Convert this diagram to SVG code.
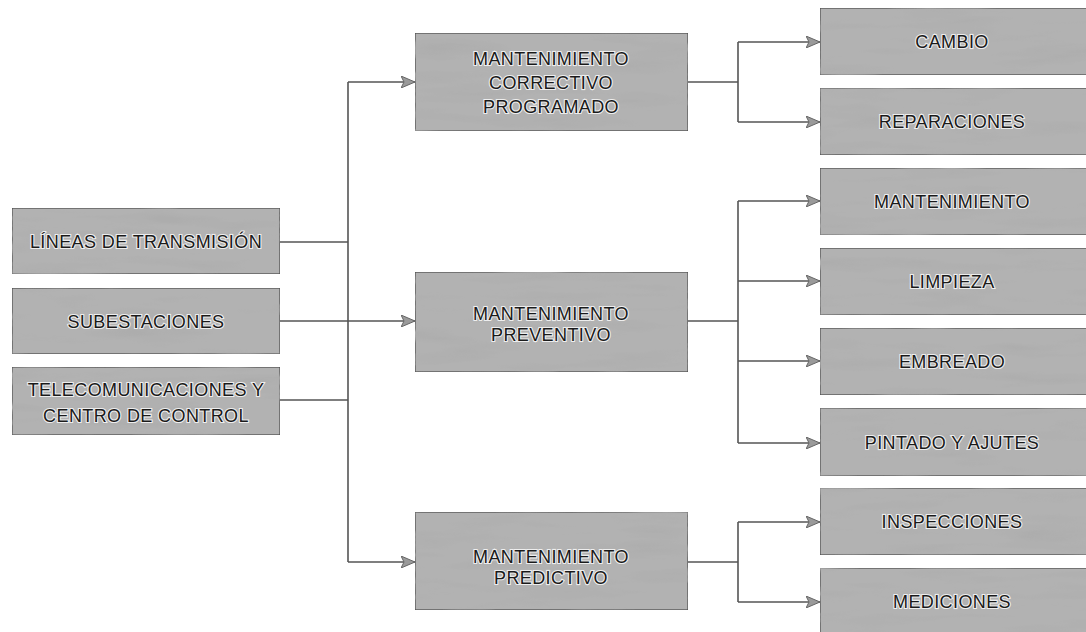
<svg xmlns="http://www.w3.org/2000/svg" width="1086" height="632" viewBox="0 0 1086 632">
<defs>
<filter id="tex" x="0" y="0" width="1" height="1">
<feTurbulence type="fractalNoise" baseFrequency="0.01 0.07" numOctaves="3" seed="4" result="n"/>
<feColorMatrix in="n" type="matrix" values="0 0 0 0 0.42  0 0 0 0 0.42  0 0 0 0 0.42  2.6 0 0 0 -1.25" result="d"/>
<feComposite in="d" in2="SourceGraphic" operator="in" result="dm"/>
<feMerge><feMergeNode in="SourceGraphic"/><feMergeNode in="dm"/></feMerge>
</filter>
<marker id="ah" viewBox="0 0 14 12" refX="14" refY="6" markerWidth="14" markerHeight="12" markerUnits="userSpaceOnUse" orient="auto">
<path d="M0,0 L14,6 L0,12 L3,6 Z" fill="#9a9a9a" stroke="#666" stroke-width="1"/>
</marker>
</defs>
<style>
.box{fill:#b2b2b2;stroke:#4a4a4a;stroke-width:1.2;filter:url(#tex)}
.t{font-family:"Liberation Sans",Arial,sans-serif;font-size:18px;fill:#1a1a1a;text-anchor:middle;stroke:#eeeeee;stroke-width:2.2px;paint-order:stroke;letter-spacing:0.4px}
.c{fill:none;stroke:#555;stroke-width:1.6}
.a{marker-end:url(#ah)}
</style>
<rect width="1086" height="632" fill="#ffffff"/>
<g id="connectors">
<path class="c" d="M280,242 H348 M280,400 H348 M348,82 V562"/>
<path class="c a" d="M348,82 H415"/>
<path class="c a" d="M280,321 H415"/>
<path class="c a" d="M348,562 H415"/>
<path class="c" d="M688,82 H738 M738,42 V122"/>
<path class="c a" d="M738,42 H820"/>
<path class="c a" d="M738,122 H820"/>
<path class="c" d="M688,321 H738 M738,201 V443"/>
<path class="c a" d="M738,201 H820"/>
<path class="c a" d="M738,281 H820"/>
<path class="c a" d="M738,361 H820"/>
<path class="c a" d="M738,443 H820"/>
<path class="c" d="M688,562 H738 M738,522 V602"/>
<path class="c a" d="M738,522 H820"/>
<path class="c a" d="M738,602 H820"/>
</g>
<g id="lineas"><rect class="box" x="12" y="208" width="268" height="66"/><text class="t" x="146" y="248">LÍNEAS DE TRANSMISIÓN</text></g>
<g id="subestaciones"><rect class="box" x="12" y="288" width="268" height="66"/><text class="t" x="146" y="328">SUBESTACIONES</text></g>
<g id="telecom"><rect class="box" x="12" y="367" width="268" height="68"/><text class="t" x="146" y="396">TELECOMUNICACIONES Y</text><text class="t" x="146" y="422">CENTRO DE CONTROL</text></g>
<g id="correctivo"><rect class="box" x="415" y="33" width="273" height="98"/><text class="t" x="551" y="65">MANTENIMIENTO</text><text class="t" x="551" y="89">CORRECTIVO</text><text class="t" x="551" y="113">PROGRAMADO</text></g>
<g id="preventivo"><rect class="box" x="415" y="272" width="273" height="100"/><text class="t" x="551" y="320">MANTENIMIENTO</text><text class="t" x="551" y="341">PREVENTIVO</text></g>
<g id="predictivo"><rect class="box" x="415" y="512" width="273" height="98"/><text class="t" x="551" y="563">MANTENIMIENTO</text><text class="t" x="551" y="584">PREDICTIVO</text></g>
<g id="cambio"><rect class="box" x="820" y="8" width="270" height="67"/><text class="t" x="952" y="48">CAMBIO</text></g>
<g id="reparaciones"><rect class="box" x="820" y="88" width="270" height="67"/><text class="t" x="952" y="128">REPARACIONES</text></g>
<g id="mantenimiento"><rect class="box" x="820" y="168" width="270" height="67"/><text class="t" x="952" y="208">MANTENIMIENTO</text></g>
<g id="limpieza"><rect class="box" x="820" y="248" width="270" height="67"/><text class="t" x="952" y="288">LIMPIEZA</text></g>
<g id="embreado"><rect class="box" x="820" y="328" width="270" height="67"/><text class="t" x="952" y="368">EMBREADO</text></g>
<g id="pintado"><rect class="box" x="820" y="408" width="270" height="68"/><text class="t" x="952" y="449">PINTADO Y AJUTES</text></g>
<g id="inspecciones"><rect class="box" x="820" y="488" width="270" height="67"/><text class="t" x="952" y="528">INSPECCIONES</text></g>
<g id="mediciones"><rect class="box" x="820" y="568" width="270" height="70"/><text class="t" x="952" y="608">MEDICIONES</text></g>
</svg>
